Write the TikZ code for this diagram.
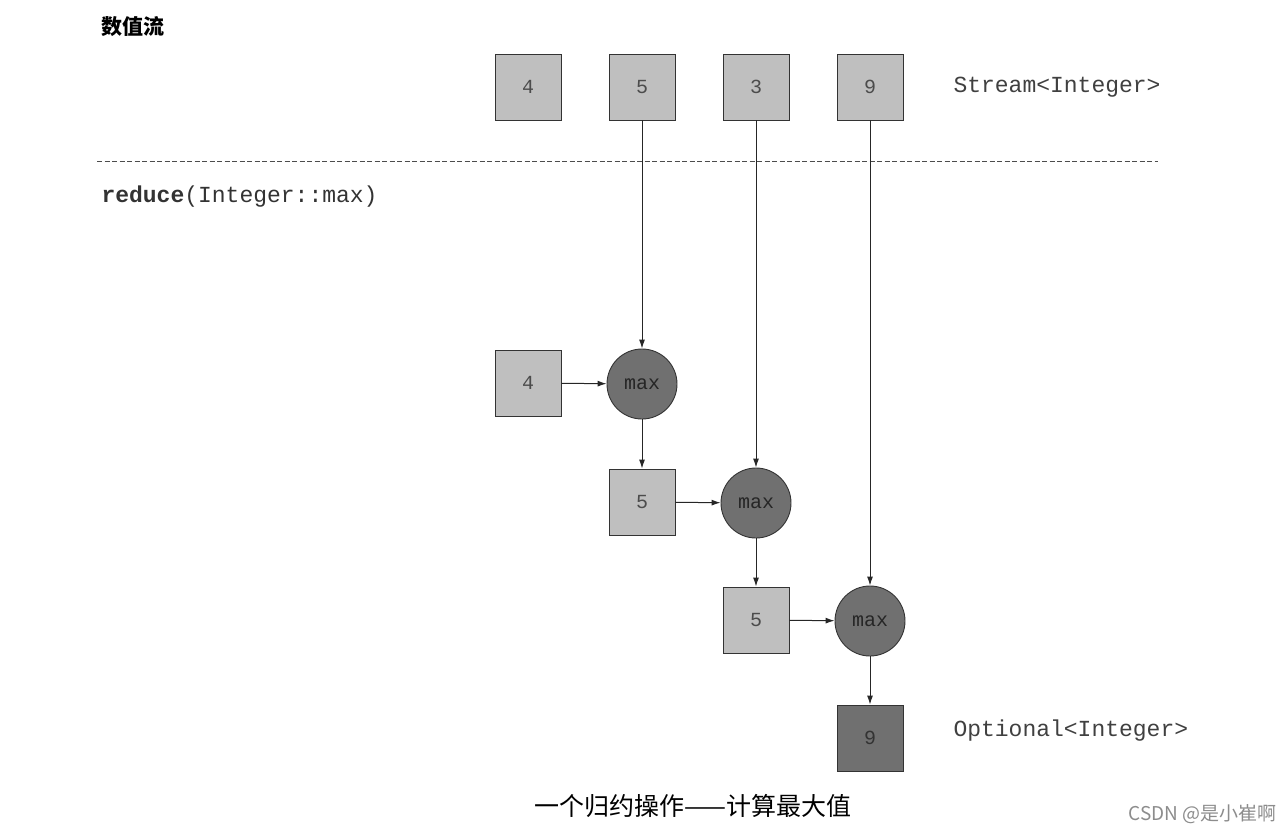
\documentclass[tikz,border=0pt]{standalone}
\usepackage{fontspec}
\setmonofont{Liberation Mono}
\newfontfamily\cjk{Noto Sans CJK SC}
\usetikzlibrary{arrows.meta}
\definecolor{boxlight}{HTML}{BFBFBF}
\definecolor{boxdark}{HTML}{707070}
\tikzset{
	val/.style={draw=black!80,fill=boxlight,minimum size=66pt,inner sep=0pt,line width=0.9pt,font=\fontsize{20}{20}\ttfamily,text=black!70},
	res/.style={val,fill=boxdark,text=black!80},
	op/.style={circle,draw=black!80,fill=boxdark,minimum size=70pt,inner sep=0pt,line width=0.9pt,font=\fontsize{20}{20}\ttfamily,text=black!85},
	flow/.style={-{Latex[length=9pt,width=6pt]},black!85,line width=1pt},
	lbl/.style={anchor=west,font=\fontsize{23}{23}\ttfamily,text=black!75}
}
\begin{document}
\begin{tikzpicture}[x=1pt,y=-1pt]
	\useasboundingbox (0,0) rectangle (1283,836);
	% stream elements
	\node[val] (s4) at (528,87) {4};
	\node[val] (s5) at (642,87) {5};
	\node[val] (s3) at (756,87) {3};
	\node[val] (s9) at (870,87) {9};
	\node[lbl] (stype) at (950,87) {Stream<Integer>};
	\node[anchor=west,font=\fontsize{21}{21}\cjk\bfseries] (title) at (98,27) {数值流};
	\draw[dash pattern=on 5pt off 2.5pt,line width=1pt,black!70] (97,161) -- (1158,161);
	\node[lbl,text=black!80] (call) at (98,197) {\textbf{reduce}(Integer::max)};
	% reduction steps
	\node[val] (a4) at (528,383) {4};
	\node[op] (m1) at (642,384) {max};
	\node[val] (a5) at (642,502) {5};
	\node[op] (m2) at (756,503) {max};
	\node[val] (b5) at (756,620) {5};
	\node[op] (m3) at (870,621) {max};
	\node[res] (r9) at (870,738) {9};
	\node[lbl] (otype) at (950,731) {Optional<Integer>};
	\draw[flow] (s5) -- (m1);
	\draw[flow] (s3) -- (m2);
	\draw[flow] (s9) -- (m3);
	\draw[flow] (a4) -- (m1);
	\draw[flow] (m1) -- (a5);
	\draw[flow] (a5) -- (m2);
	\draw[flow] (m2) -- (b5);
	\draw[flow] (b5) -- (m3);
	\draw[flow] (m3) -- (r9);
	\node[font=\fontsize{25}{25}\cjk] (caption) at (693,806) {一个归约操作——计算最大值};
	\node[anchor=east,font=\fontsize{19}{19}\cjk,text=black!45] (mark) at (1280,814) {CSDN @是小崔啊};
\end{tikzpicture}
\end{document}
